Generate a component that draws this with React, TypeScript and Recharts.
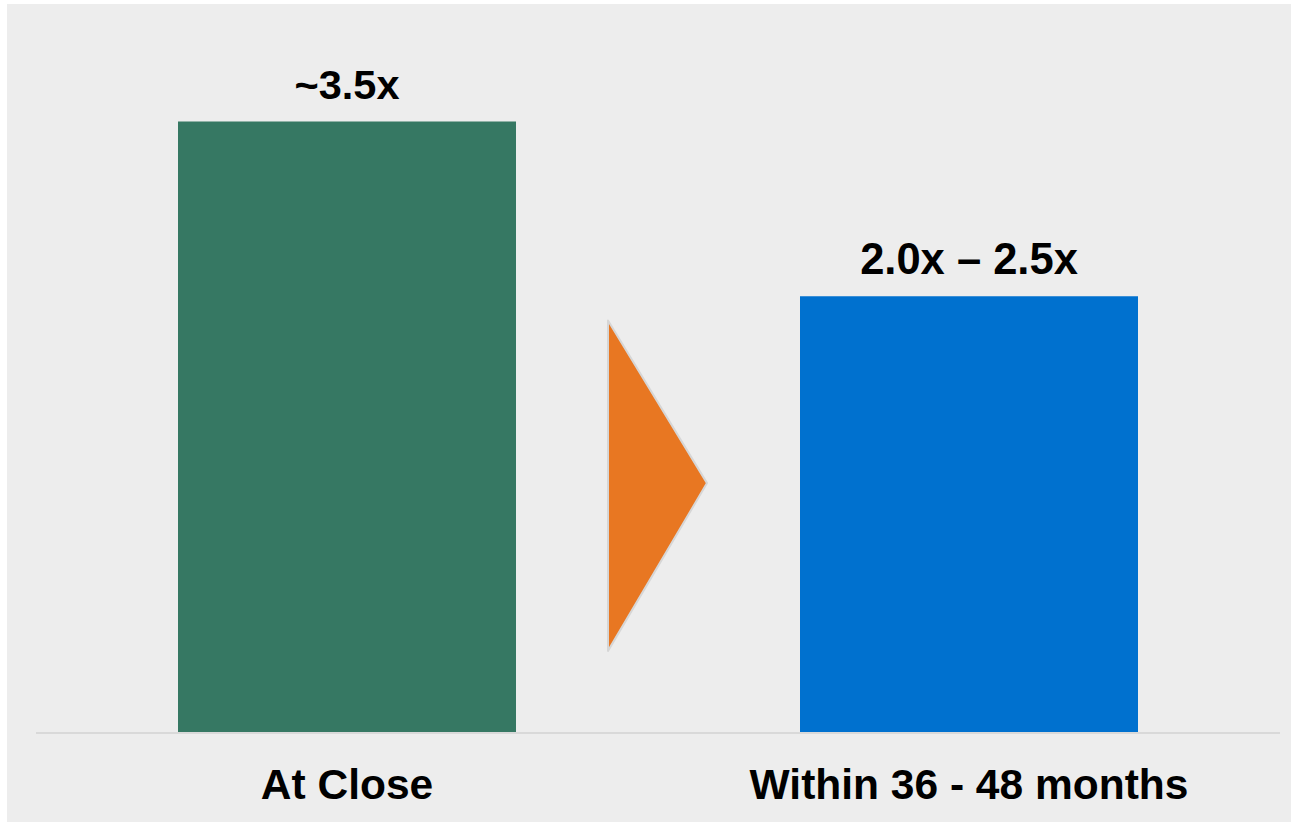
import React from 'react';
import * as Recharts from 'recharts';
import { BarChart, Bar, XAxis, YAxis, Cell, LabelList } from 'recharts';

const categories = ['At Close', 'Within 36 - 48 months'];
const values = [3.5, 2.5];
const valueLabels = ['~3.5x', '2.0x \u2013 2.5x'];
const barColors = ['#367863', '#0071CF'];
const labelSizes = [41.5, 43.5];

// arrow decoration between the two bars, in value units
const arrowTop = 2.36;
const arrowBottom = 0.47;
const arrowTip = 1.43;

const data = categories.map((c, i) => ({ name: c, value: values[i], label: valueLabels[i] }));

const W = 1284;
const H = 818;
const MARGIN = { top: 30, right: 11, bottom: 0, left: 29 };
const Y_MAX = 4;

const Tick = (props: any) => {
  const { x, y, payload } = props;
  return (
    <text x={x} y={y} dy={58} textAnchor="middle" fontFamily="Liberation Sans, Arial, sans-serif" fontWeight="bold" fontSize={42.5} fill="#000">
      {payload.value}
    </text>
  );
};

const ValueLabel = (props: any) => {
  const { x, y, width, index } = props;
  return (
    <text x={x + width / 2} y={y - 22} textAnchor="middle" fontFamily="Liberation Sans, Arial, sans-serif" fontWeight="bold" fontSize={labelSizes[index]} fill="#000">
      {valueLabels[index]}
    </text>
  );
};

const Arrow = () => {
  const usePA = (Recharts as any).usePlotArea;
  let area: any = usePA ? usePA() : null;
  if (!area) {
    area = { x: MARGIN.left, y: MARGIN.top, width: W - MARGIN.left - MARGIN.right, height: H - MARGIN.top - 89 };
  }
  const cx = area.x + area.width / 2;
  const yv = (v: number) => area.y + area.height * (1 - v / Y_MAX);
  const pts = `${cx - 50},${yv(arrowTop)} ${cx + 49},${yv(arrowTip)} ${cx - 50},${yv(arrowBottom)}`;
  return <polygon points={pts} fill="#E87722" stroke="#D6D6D6" strokeWidth={2} strokeLinejoin="round" />;
};

export default function App() {
  return (
    <div style={{ position: 'absolute', left: 7, top: 4, width: W, height: H, background: '#EDEDED' }}>
      <BarChart width={W} height={H} data={data} margin={MARGIN} barSize={338}>
        <XAxis dataKey="name" height={89} axisLine={{ stroke: '#D9D9D9', strokeWidth: 2 }} tickLine={false} tick={<Tick />} interval={0} />
        <YAxis hide domain={[0, Y_MAX]} />
        <Bar dataKey="value" isAnimationActive={false}>
          {data.map((d, i) => (
            <Cell key={d.name} fill={barColors[i]} />
          ))}
          <LabelList dataKey="label" content={<ValueLabel />} />
        </Bar>
        <Arrow />
      </BarChart>
    </div>
  );
}
